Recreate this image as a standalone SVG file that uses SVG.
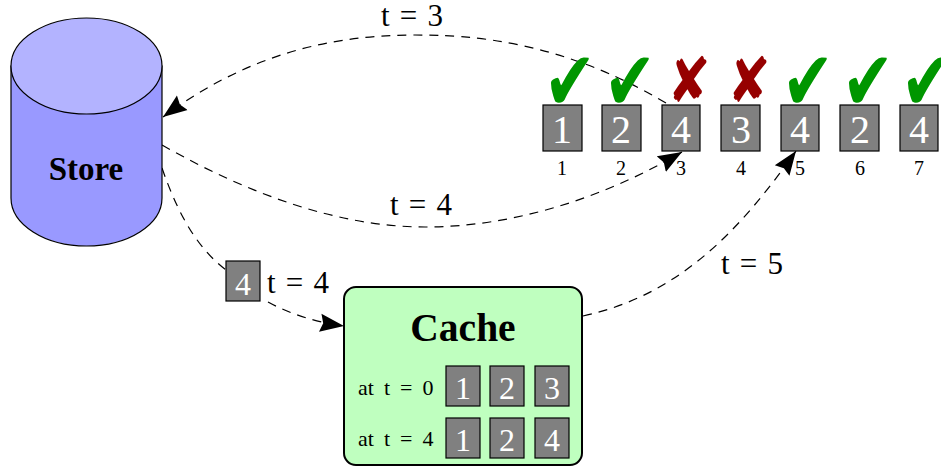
<svg xmlns="http://www.w3.org/2000/svg" width="941" height="467" viewBox="0 0 941 467">
<style>
text{font-family:"Liberation Serif","DejaVu Serif",serif;fill:#000}
.c{fill:none;stroke:#000;stroke-width:1.2;stroke-dasharray:9 7}
.b{fill:#808080;stroke:#000;stroke-width:1.2}
.n{fill:#fff;font-size:40px;text-anchor:middle}
.s{fill:#fff;font-size:32px;text-anchor:middle}
.i{font-size:20px;text-anchor:middle}
.l{font-size:31px;text-anchor:middle;word-spacing:2.500px}
.a{font-size:22px;word-spacing:4.500px}
.ok{font-family:"DejaVu Sans",sans-serif;font-size:52px;fill:#009600;text-anchor:middle}
.no{font-family:"DejaVu Sans",sans-serif;font-size:52px;fill:#960000;text-anchor:middle}
</style>
<defs>
<marker id="ah" markerUnits="userSpaceOnUse" markerWidth="26" markerHeight="20" refX="24" refY="10" orient="auto"><path d="M0 1L24 10L0 19L3 10Z" fill="#000"/></marker>
</defs>
<g id="connectors">
<path class="c" d="M666 103C560 40 470 35 415 35C320 35 240 60 163 117" marker-end="url(#ah)"/>
<path class="c" d="M162 145C250 195 340 227 425 227C510 227 600 200 682 152" marker-end="url(#ah)"/>
<path class="c" d="M162 168C180 220 200 250 226 270"/>
<path class="c" d="M268 302C290 314 315 322 344 326" marker-end="url(#ah)"/>
<path class="c" d="M583 316C680 295 740 230 796 151" marker-end="url(#ah)"/>
</g>
<g id="labels">
<text class="l" x="412" y="26">t = 3</text>
<text class="l" x="421" y="215">t = 4</text>
<text class="l" x="298" y="293">t = 4</text>
<text class="l" x="752" y="274">t = 5</text>
</g>
<g id="store">
<path d="M11 66V198A75.500 48 0 0 0 162 198V66Z" fill="#9999ff" stroke="#000" stroke-width="1.200"/>
<ellipse cx="86.500" cy="66" rx="75.500" ry="48" fill="#b3b3ff" stroke="#000" stroke-width="1.200"/>
<text x="86" y="180" font-size="33" font-weight="700" text-anchor="middle">Store</text>
</g>
<g id="moving-block"><rect class="b" x="226" y="261" width="34" height="40"/><text class="s" x="243" y="295">4</text></g>
<g id="cache">
<rect x="344" y="287" width="238" height="178" rx="12" fill="#bfffbf" stroke="#000" stroke-width="2"/>
<text x="463" y="341" font-size="39.500" font-weight="700" text-anchor="middle">Cache</text>
<text class="a" x="358" y="395">at t = 0</text>
<text class="a" x="358" y="446">at t = 4</text>
<rect class="b" x="446" y="366" width="34" height="40"/><text class="s" x="463" y="399">1</text>
<rect class="b" x="490" y="366" width="34" height="40"/><text class="s" x="507" y="399">2</text>
<rect class="b" x="535" y="366" width="34" height="40"/><text class="s" x="552" y="399">3</text>
<rect class="b" x="446" y="418" width="34" height="40"/><text class="s" x="463" y="451">1</text>
<rect class="b" x="490" y="418" width="34" height="40"/><text class="s" x="507" y="451">2</text>
<rect class="b" x="535" y="418" width="34" height="40"/><text class="s" x="552" y="451">4</text>
</g>
<g id="req1"><text class="ok" transform="translate(570 110) scale(1.2 1.6)">✔</text><rect class="b" x="543" y="105" width="39" height="46"/><text class="n" x="562" y="143">1</text><text class="i" x="562" y="175">1</text></g>
<g id="req2"><text class="ok" transform="translate(630 110) scale(1.2 1.6)">✔</text><rect class="b" x="602" y="105" width="39" height="46"/><text class="n" x="621" y="143">2</text><text class="i" x="621" y="175">2</text></g>
<g id="req3"><text class="no" transform="translate(689 102) scale(1 1.2)">✘</text><rect class="b" x="662" y="105" width="38" height="46"/><text class="n" x="681" y="143">4</text><text class="i" x="681" y="175">3</text></g>
<g id="req4"><text class="no" transform="translate(749 102) scale(1 1.2)">✘</text><rect class="b" x="721" y="105" width="39" height="46"/><text class="n" x="741" y="143">3</text><text class="i" x="741" y="175">4</text></g>
<g id="req5"><text class="ok" transform="translate(808 110) scale(1.2 1.6)">✔</text><rect class="b" x="781" y="105" width="38" height="46"/><text class="n" x="800" y="143">4</text><text class="i" x="800" y="175">5</text></g>
<g id="req6"><text class="ok" transform="translate(868 110) scale(1.2 1.6)">✔</text><rect class="b" x="840" y="105" width="39" height="46"/><text class="n" x="860" y="143">2</text><text class="i" x="860" y="175">6</text></g>
<g id="req7"><text class="ok" transform="translate(927 110) scale(1.2 1.6)">✔</text><rect class="b" x="900" y="105" width="38" height="46"/><text class="n" x="919" y="143">4</text><text class="i" x="919" y="175">7</text></g>
</svg>
